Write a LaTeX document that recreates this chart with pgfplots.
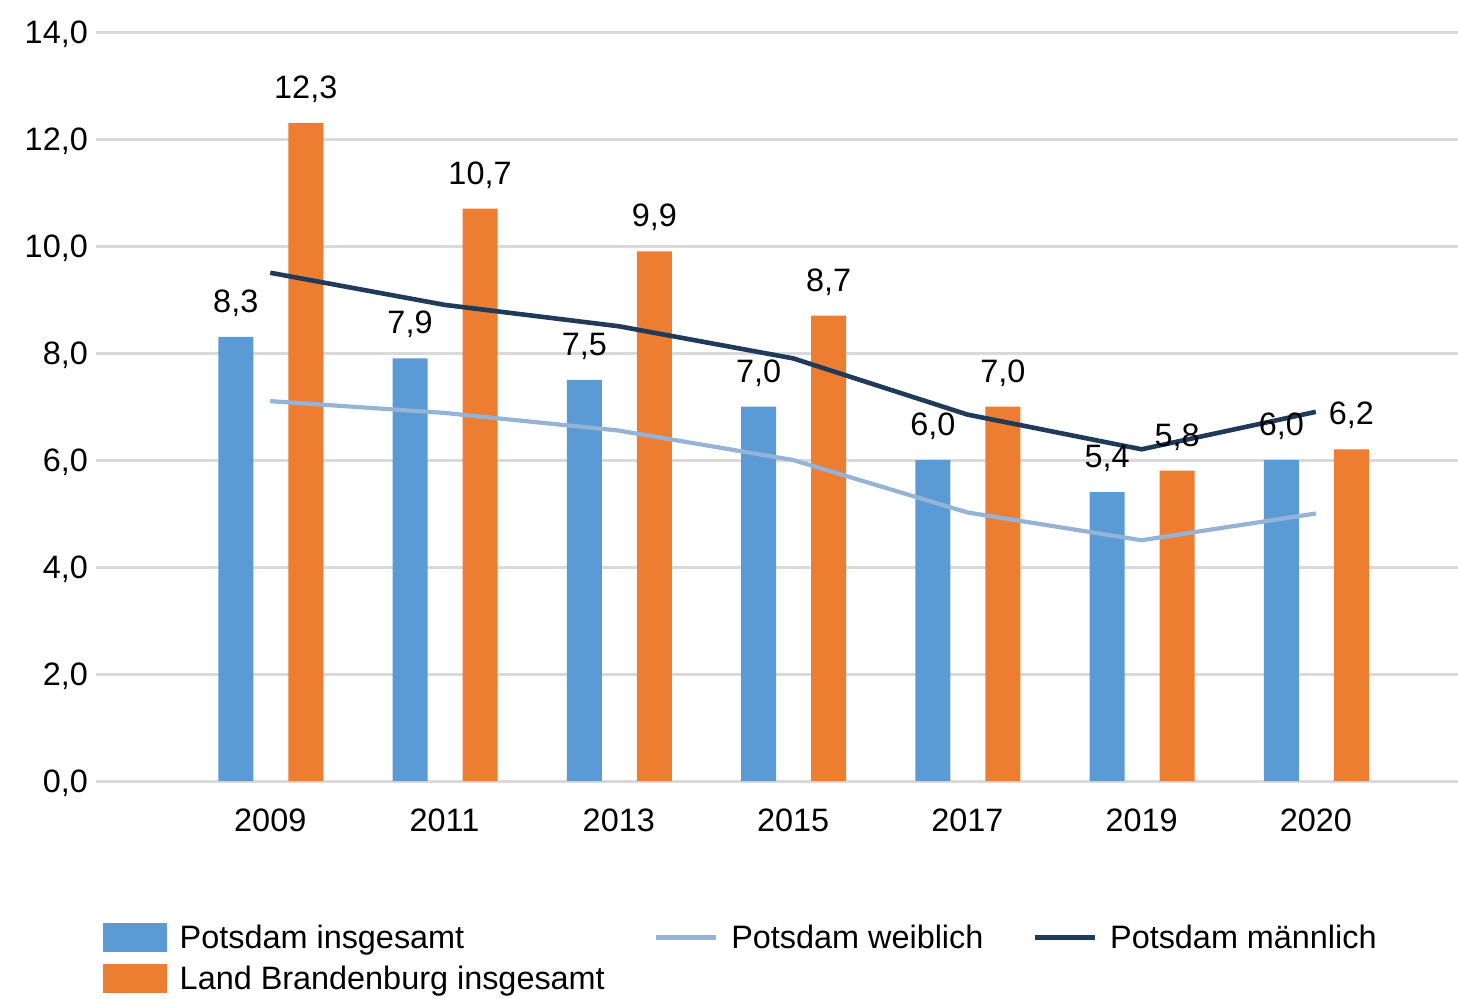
\documentclass[border=0pt]{standalone}
\usepackage{pgfplots}
\pgfplotsset{compat=1.18}
\usepackage{fontspec}
\setmainfont{Liberation Sans}
\definecolor{barblue}{HTML}{5B9BD5}
\definecolor{barorange}{HTML}{ED7D31}
\definecolor{darkline}{HTML}{203A5C}
\definecolor{lightline}{HTML}{95B3D7}
\definecolor{gridgray}{HTML}{D9D9D9}
\newcommand{\chartfont}{\fontsize{16.2}{19.4}\selectfont}
\begin{document}
\begin{tikzpicture}
\useasboundingbox (0,0) rectangle (729pt,499pt);
\begin{axis}[
  at={(48pt,108.5pt)}, anchor=south west,
  scale only axis, width=681pt, height=374.5pt,
  xmin=-1.0, xmax=6.816, ymin=0, ymax=14,
  ytick={0,2,...,14},
  xtick={0,...,6},
  xticklabels={2009,2011,2013,2015,2017,2019,2020},
  ymajorgrids, grid style={color=gridgray, line width=1.5pt},
  axis line style={draw=none}, tick style={draw=none},
  clip=false,
  /pgf/number format/.cd, use comma, fixed, fixed zerofill, precision=1, assume math mode=true,
  /pgfplots/.cd,
  yticklabel style={font=\chartfont, anchor=east, inner sep=0pt, text height=11.5pt, text depth=0pt, xshift=-3.9pt},
  xticklabel style={font=\chartfont, anchor=north, inner sep=0pt, text height=11.5pt, text depth=0pt, yshift=-13.75pt},
  legend columns=3,
  legend style={draw=none, fill=none, inner sep=0pt, outer sep=0pt,
    at={(0.0051,-0.1896)}, anchor=north west,
    font=\chartfont, row sep=6pt,
    /tikz/every even column/.append style={column sep=24.5pt},
    nodes={inner sep=0pt, text height=11.5pt, text depth=0pt}},
  legend cell align=left,
]
% Potsdam insgesamt
\addplot[forget plot, ybar, bar width=17.5pt, bar shift=-17.25pt, fill=barblue, draw=none,
  nodes near coords, nodes near coords style={font=\chartfont, anchor=south, inner sep=0pt, text depth=0pt, yshift=12pt, xshift=-17.25pt, text=black}]
  coordinates {(0,8.3) (1,7.9) (2,7.5) (3,7.0) (4,6.0) (5,5.4) (6,6.0)};
% Land Brandenburg insgesamt
\addplot[forget plot, ybar, bar width=17.5pt, bar shift=17.75pt, fill=barorange, draw=none,
  nodes near coords, nodes near coords style={font=\chartfont, anchor=south, inner sep=0pt, text depth=0pt, yshift=12pt, xshift=17.75pt, text=black}]
  coordinates {(0,12.3) (1,10.7) (2,9.9) (3,8.7) (4,7.0) (5,5.8) (6,6.2)};
% Potsdam weiblich
\addplot[forget plot, lightline, line width=2.1pt, line join=round, mark=none]
  coordinates {(0,7.1) (1,6.88) (2,6.55) (3,6.0) (4,5.02) (5,4.5) (6,5.0)};
% Potsdam maennlich
\addplot[forget plot, darkline, line width=2.3pt, line join=round, mark=none]
  coordinates {(0,9.5) (1,8.9) (2,8.5) (3,7.9) (4,6.85) (5,6.2) (6,6.9)};
% legend
\addlegendimage{legend image code/.code={\fill[barblue] (0pt,-7pt) rectangle (31.5pt,7pt); \path (38pt,0pt);}}
\addlegendentry{Potsdam insgesamt}
\addlegendimage{legend image code/.code={\draw[lightline, line width=2.1pt] (0pt,0pt) -- (30pt,0pt); \path (37.5pt,-7pt) (0pt,7pt);}}
\addlegendentry{Potsdam weiblich}
\addlegendimage{legend image code/.code={\draw[darkline, line width=2.3pt] (0pt,0pt) -- (30pt,0pt); \path (37.5pt,-7pt) (0pt,7pt);}}
\addlegendentry{Potsdam männlich}
\addlegendimage{legend image code/.code={\fill[barorange] (0pt,-7pt) rectangle (31.5pt,7pt); \path (38pt,0pt);}}
\addlegendentry{Land Brandenburg insgesamt}
\end{axis}
\end{tikzpicture}
\end{document}
